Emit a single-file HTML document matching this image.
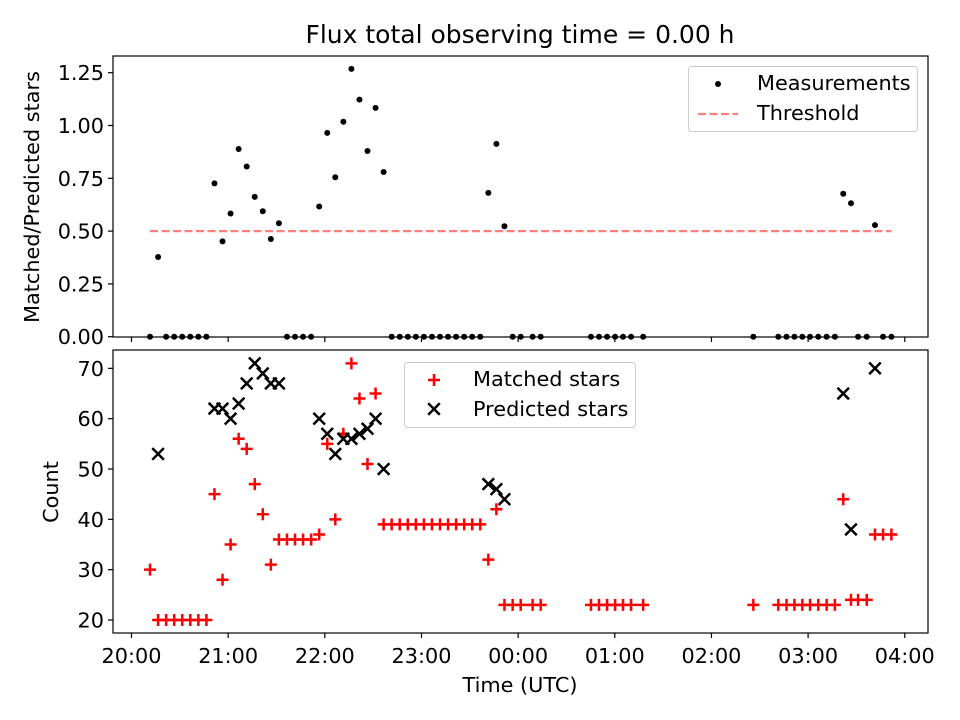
<!DOCTYPE html>
<html><head><meta charset="utf-8"><style>
body{margin:0;background:#fff;}
svg{display:block;font-family:"DejaVu Sans","Liberation Sans",sans-serif;}
</style></head><body>
<svg id="chart" width="960" height="720" viewBox="0 0 960 720" xmlns="http://www.w3.org/2000/svg">
<rect width="960" height="720" fill="#fff"/>
<text x="520" y="43" font-size="25" text-anchor="middle">Flux total observing time = 0.00 h</text>
<g id="topPanel"></g>
<g id="botPanel"></g>
</svg>
<script>
// minutes after 20:00 UTC
const times = [11.5,16.5,21.5,26.5,31.5,36.5,41.5,46.5,51.5,56.5,61.5,66.5,71.5,76.5,81.5,86.5,91.5,96.5,101.5,106.5,111.5,116.5,121.5,126.5,131.5,136.5,141.5,146.5,151.5,156.5,161.5,166.5,171.5,176.5,181.5,186.5,191.5,196.5,201.5,206.5,211.5,216.5,221.5,226.5,231.5,236.6,241.6,249,254,285.2,290.2,295.2,300.2,305.1,310.1,317.6,386,401.5,406.6,411.5,416.4,421.2,426.3,431.5,436.6,441.8,446.6,451,456.4,461.5,466.5,471.7];
const matched = [30,20,20,20,20,20,20,20,45,28,35,56,54,47,41,31,36,36,36,36,36,37,55,40,57,71,64,51,65,39,39,39,39,39,39,39,39,39,39,39,39,39,32,42,23,23,23,23,23,23,23,23,23,23,23,23,23,23,23,23,23,23,23,23,23,44,24,24,24,37,37,37];
const predicted = [null,53,null,null,null,null,null,null,62,62,60,63,67,71,69,67,67,null,null,null,null,60,57,53,56,56,57,58,60,50,null,null,null,null,null,null,null,null,null,null,null,null,47,46,44,null,null,null,null,null,null,null,null,null,null,null,null,null,null,null,null,null,null,null,null,65,38,null,null,70,null,null];
const threshold = 0.5;
const xTickLabels = ["20:00","21:00","22:00","23:00","00:00","01:00","02:00","03:00","04:00"];
const topTicks = [0,0.25,0.5,0.75,1.0,1.25];
const botTicks = [20,30,40,50,60,70];

const NS="http://www.w3.org/2000/svg";
const L=113,R=928;
const FS=20.8;
const X=m=>131.5+m*1.611;
const YT=v=>336.7-v*211.2;
const YB=v=>620-(v-20)*5.033;
function mk(parent,tag,attrs,text){const e=document.createElementNS(NS,tag);for(const k in attrs)e.setAttribute(k,attrs[k]);if(text!=null)e.textContent=text;parent.appendChild(e);return e;}
const topG=document.getElementById('topPanel'),botG=document.getElementById('botPanel');

function axes(g,y0,y1,ticks,Y,fmt){
  xTickLabels.forEach((t,i)=>{const x=X(i*60);
    const tk=mk(g,'line',{x1:x,x2:x,y1:y1,y2:y1+5,stroke:'#000','stroke-width':1.2});
    
    
    if(g===botG){const tl=mk(g,'text',{x:x,y:y1+30,'font-size':FS,'text-anchor':'middle'},t);
      
      }
  });
  ticks.forEach(v=>{const y=Y(v);
    const tk=mk(g,'line',{x1:L-5,x2:L,y1:y,y2:y,stroke:'#000','stroke-width':1.2});
    
    
    const tl=mk(g,'text',{x:L-9,y:y+7.5,'font-size':FS,'text-anchor':'end'},fmt(v));
    
    
  });
}
axes(topG,56,337,topTicks,YT,v=>v.toFixed(2));
axes(botG,350,633,botTicks,YB,v=>String(v));

const tmin=Math.min(...times),tmax=Math.max(...times);
const th=mk(topG,'line',{x1:X(tmin),x2:X(tmax),y1:YT(threshold),y2:YT(threshold),stroke:'#ff7f7f','stroke-width':2.2,'stroke-dasharray':'8,3.5'});


times.forEach((t,i)=>{
  const p=predicted[i];const r=p?matched[i]/p:0;
  const c=mk(topG,'circle',{cx:X(t),cy:YT(r),r:3,fill:'#000'});
  
  
});
times.forEach((t,i)=>{
  const x=X(t),y=YB(matched[i]),s=6;
  const p=mk(botG,'path',{d:`M${x-s},${y}H${x+s}M${x},${y-s}V${y+s}`,stroke:'#f00','stroke-width':2.5});
  
  
});
times.forEach((t,i)=>{
  if(predicted[i]==null)return;
  const x=X(t),y=YB(predicted[i]),s=5.8;
  const p=mk(botG,'path',{d:`M${x-s},${y-s}L${x+s},${y+s}M${x-s},${y+s}L${x+s},${y-s}`,stroke:'#000','stroke-width':2.5});
  
  
});
[[topG,56,337],[botG,350,633]].forEach(([g,a,b])=>{
  const f=mk(g,'rect',{x:L,y:a,width:R-L,height:b-a,fill:'none',stroke:'#000','stroke-width':1.2});
  
  
});
let t1=mk(topG,'text',{x:0,y:0,'font-size':FS,'text-anchor':'middle',transform:'translate(39,197) rotate(-90)'},'Matched/Predicted stars');


let t2=mk(botG,'text',{x:0,y:0,'font-size':FS,'text-anchor':'middle',transform:'translate(58,492) rotate(-90)'},'Count');


let t3=mk(botG,'text',{x:520,y:692,'font-size':FS,'text-anchor':'middle'},'Time (UTC)');



let lg=mk(topG,'g',{});


mk(lg,'rect',{x:688.5,y:66.5,width:229,height:65,rx:3,fill:'#fff',stroke:'#ccc'});
mk(lg,'circle',{cx:718,cy:84,r:3,fill:'#000'});
mk(lg,'text',{x:757,y:90,'font-size':FS},'Measurements');
mk(lg,'line',{x1:698,x2:738,y1:114,y2:114,stroke:'#ff7f7f','stroke-width':2.2,'stroke-dasharray':'8,3.5'});
mk(lg,'text',{x:757,y:120,'font-size':FS},'Threshold');

let lg2=mk(botG,'g',{});


mk(lg2,'rect',{x:404.5,y:362.5,width:231,height:65,rx:3,fill:'#fff',stroke:'#ccc'});
mk(lg2,'path',{d:'M428,380H440M434,374V386',stroke:'#f00','stroke-width':2.5});
mk(lg2,'text',{x:473,y:386,'font-size':FS},'Matched stars');
mk(lg2,'path',{d:'M428.2,403.2L439.8,414.8M428.2,414.8L439.8,403.2',stroke:'#000','stroke-width':2.5});
mk(lg2,'text',{x:473,y:416,'font-size':FS},'Predicted stars');
</script>
</body></html>
